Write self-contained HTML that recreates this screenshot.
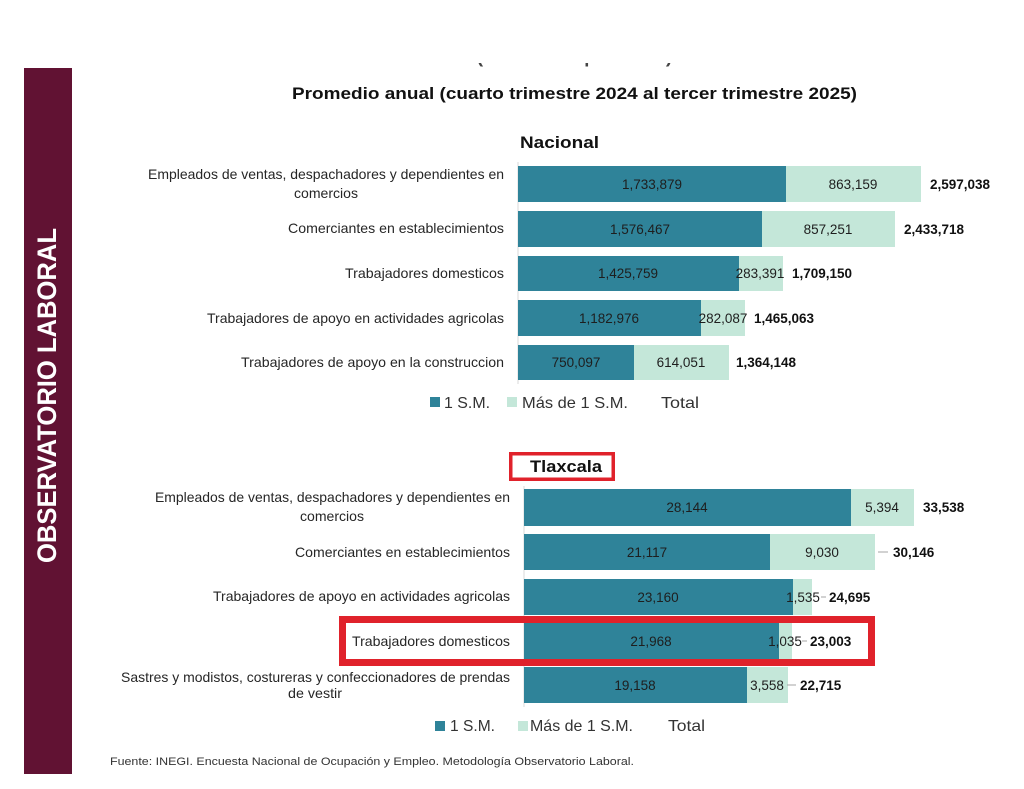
<!DOCTYPE html>
<html><head><meta charset="utf-8"><style>
html,body{margin:0;padding:0;background:#fff;}
svg{display:block;font-family:"Liberation Sans",sans-serif;}
</style></head><body>
<svg width="1024" height="789" viewBox="0 0 1024 789" xmlns="http://www.w3.org/2000/svg">
<rect width="1024" height="789" fill="#fff"/>

<!-- clipped top line (only descenders visible) -->
<text x="477" y="63" font-size="16" font-weight="bold" fill="#444" textLength="195" lengthAdjust="spacingAndGlyphs">(Número de personas)</text>
<rect x="440" y="30" width="260" height="33" fill="#fff"/>

<!-- sidebar -->
<rect x="24" y="68" width="48" height="706" fill="#611233"/>
<text transform="translate(56,395.5) rotate(-90)" text-anchor="middle" font-size="27" font-weight="bold" fill="#fff" textLength="335" lengthAdjust="spacingAndGlyphs">OBSERVATORIO LABORAL</text>

<!-- title -->
<text x="292" y="99" font-size="16.5" font-weight="bold" fill="#111" textLength="565" lengthAdjust="spacingAndGlyphs">Promedio anual (cuarto trimestre 2024 al tercer trimestre 2025)</text>
<text x="520" y="148" font-size="17" font-weight="bold" fill="#111" textLength="79" lengthAdjust="spacingAndGlyphs">Nacional</text>

<!-- NATIONAL -->
<g font-size="14" fill="#262626" text-anchor="end">
<text x="504" y="179" textLength="356" lengthAdjust="spacingAndGlyphs">Empleados de ventas, despachadores y dependientes en</text>
<text x="326" y="198" text-anchor="middle" textLength="64" lengthAdjust="spacingAndGlyphs">comercios</text>
<text x="504" y="233" textLength="216" lengthAdjust="spacingAndGlyphs">Comerciantes en establecimientos</text>
<text x="504" y="278" textLength="159" lengthAdjust="spacingAndGlyphs">Trabajadores domesticos</text>
<text x="504" y="323" textLength="297" lengthAdjust="spacingAndGlyphs">Trabajadores de apoyo en actividades agricolas</text>
<text x="504" y="367" textLength="263" lengthAdjust="spacingAndGlyphs">Trabajadores de apoyo en la construccion</text>
</g>
<line x1="518" y1="162" x2="518" y2="384" stroke="#d9d9d9" stroke-width="1"/>
<g>
<rect x="518" y="166" width="268" height="36" fill="#2f8399"/><rect x="786" y="166" width="135" height="36" fill="#c4e7d9"/>
<rect x="518" y="211" width="244" height="36" fill="#2f8399"/><rect x="762" y="211" width="133" height="36" fill="#c4e7d9"/>
<rect x="518" y="256" width="221" height="35" fill="#2f8399"/><rect x="739" y="256" width="44" height="35" fill="#c4e7d9"/>
<rect x="518" y="300" width="183" height="36" fill="#2f8399"/><rect x="701" y="300" width="44" height="36" fill="#c4e7d9"/>
<rect x="518" y="345" width="116" height="35" fill="#2f8399"/><rect x="634" y="345" width="95" height="35" fill="#c4e7d9"/>
</g>
<g font-size="13.5" fill="#1e1e1e" text-anchor="middle">
<text x="652" y="189">1,733,879</text><text x="853" y="189">863,159</text>
<text x="640" y="234">1,576,467</text><text x="828" y="234">857,251</text>
<text x="628" y="278">1,425,759</text><text x="760" y="278">283,391</text>
<text x="609" y="323">1,182,976</text><text x="723" y="323">282,087</text>
<text x="576" y="367">750,097</text><text x="681" y="367">614,051</text>
</g>
<g font-size="13.5" font-weight="bold" fill="#111">
<text x="930" y="189">2,597,038</text>
<text x="904" y="234">2,433,718</text>
<text x="792" y="278">1,709,150</text>
<text x="754" y="323">1,465,063</text>
<text x="736" y="367">1,364,148</text>
</g>
<!-- legend national -->
<g font-size="16" fill="#333">
<rect x="430" y="397" width="10" height="10" fill="#2f8399"/>
<text x="444" y="408" textLength="46" lengthAdjust="spacingAndGlyphs">1 S.M.</text>
<rect x="507" y="397" width="10" height="10" fill="#c4e7d9"/>
<text x="522" y="408" textLength="106" lengthAdjust="spacingAndGlyphs">Más de 1 S.M.</text>
<text x="661" y="408" textLength="38" lengthAdjust="spacingAndGlyphs">Total</text>
</g>

<!-- TLAXCALA -->
<rect x="510.75" y="453.75" width="102.5" height="25.5" fill="none" stroke="#e0222b" stroke-width="3.5"/>
<text x="530" y="472" font-size="17" font-weight="bold" fill="#111" textLength="72" lengthAdjust="spacingAndGlyphs">Tlaxcala</text>

<g font-size="14" fill="#262626" text-anchor="end">
<text x="510" y="502" textLength="355" lengthAdjust="spacingAndGlyphs">Empleados de ventas, despachadores y dependientes en</text>
<text x="332" y="521" text-anchor="middle" textLength="64" lengthAdjust="spacingAndGlyphs">comercios</text>
<text x="510" y="557" textLength="215" lengthAdjust="spacingAndGlyphs">Comerciantes en establecimientos</text>
<text x="510" y="601" textLength="297" lengthAdjust="spacingAndGlyphs">Trabajadores de apoyo en actividades agricolas</text>
<text x="510" y="646" textLength="158" lengthAdjust="spacingAndGlyphs">Trabajadores domesticos</text>
<text x="510" y="682" textLength="389" lengthAdjust="spacingAndGlyphs">Sastres y modistos, costureras y confeccionadores de prendas</text>
<text x="315" y="698" text-anchor="middle" textLength="54" lengthAdjust="spacingAndGlyphs">de vestir</text>
</g>
<line x1="524" y1="486" x2="524" y2="707" stroke="#d9d9d9" stroke-width="1"/>
<g>
<rect x="524" y="489" width="327" height="37" fill="#2f8399"/><rect x="851" y="489" width="63" height="37" fill="#c4e7d9"/>
<rect x="524" y="534" width="246" height="36" fill="#2f8399"/><rect x="770" y="534" width="105" height="36" fill="#c4e7d9"/>
<rect x="524" y="579" width="269" height="36" fill="#2f8399"/><rect x="793" y="579" width="19" height="36" fill="#c4e7d9"/>
<rect x="524" y="623" width="255" height="36" fill="#2f8399"/><rect x="779" y="623" width="13" height="36" fill="#c4e7d9"/>
<rect x="524" y="667" width="223" height="36" fill="#2f8399"/><rect x="747" y="667" width="41" height="36" fill="#c4e7d9"/>
</g>
<g stroke="#a6a6a6" stroke-width="1">
<line x1="878" y1="552" x2="888" y2="552"/>
<line x1="821" y1="597" x2="826" y2="597"/>
<line x1="802" y1="641" x2="807" y2="641"/>
<line x1="787" y1="685" x2="796" y2="685"/>
</g>
<g font-size="13.5" fill="#1e1e1e" text-anchor="middle">
<text x="687" y="512">28,144</text><text x="882" y="512">5,394</text>
<text x="647" y="557">21,117</text><text x="822" y="557">9,030</text>
<text x="658" y="602">23,160</text><text x="803" y="602">1,535</text>
<text x="651" y="646">21,968</text><text x="785" y="646">1,035</text>
<text x="635" y="690">19,158</text><text x="767" y="690">3,558</text>
</g>
<g font-size="13.5" font-weight="bold" fill="#111">
<text x="923" y="512">33,538</text>
<text x="893" y="557">30,146</text>
<text x="829" y="602">24,695</text>
<text x="810" y="646">23,003</text>
<text x="800" y="690">22,715</text>
</g>
<!-- red row box -->
<rect x="342.5" y="619.5" width="529" height="43" fill="none" stroke="#e0222b" stroke-width="7"/>

<!-- legend tlaxcala -->
<g font-size="16" fill="#333">
<rect x="435" y="721" width="10" height="10" fill="#2f8399"/>
<text x="450" y="731" textLength="45" lengthAdjust="spacingAndGlyphs">1 S.M.</text>
<rect x="518" y="721" width="10" height="10" fill="#c4e7d9"/>
<text x="530" y="731" textLength="103" lengthAdjust="spacingAndGlyphs">Más de 1 S.M.</text>
<text x="668" y="731" textLength="37" lengthAdjust="spacingAndGlyphs">Total</text>
</g>

<text x="110" y="765" font-size="11" fill="#333" textLength="524" lengthAdjust="spacingAndGlyphs">Fuente: INEGI. Encuesta Nacional de Ocupación y Empleo. Metodología Observatorio Laboral.</text>
</svg>
</body></html>
